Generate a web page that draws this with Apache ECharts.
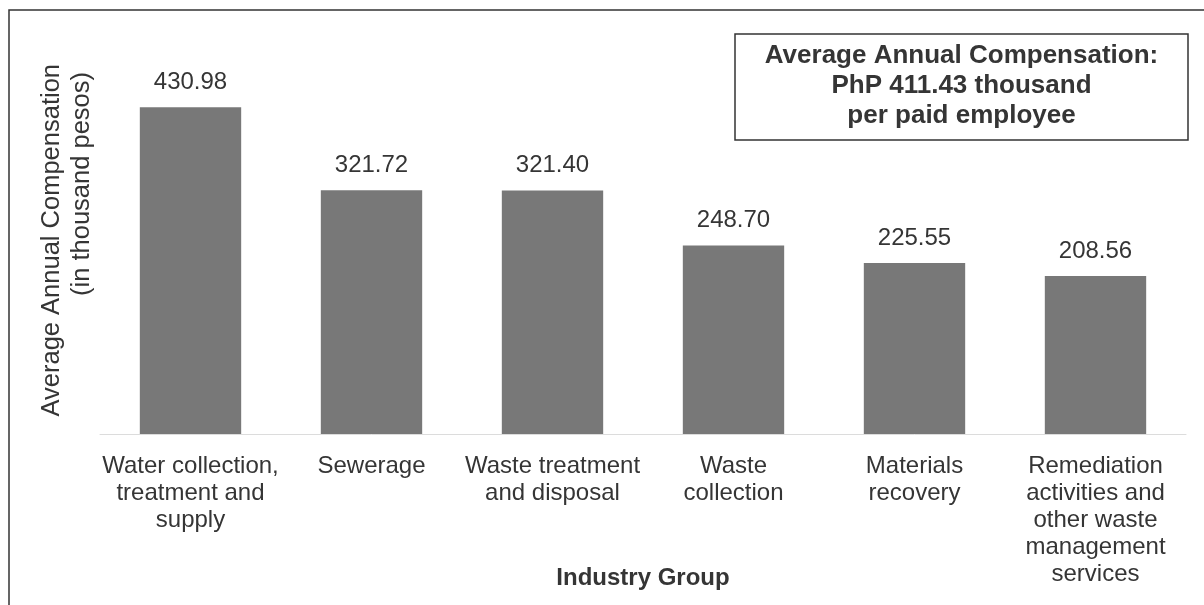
<!DOCTYPE html>
<html>
<head>
<meta charset="utf-8">
<script src="https://cdn.jsdelivr.net/npm/echarts@6/dist/echarts.min.js"></script>
<style>
html,body{margin:0;padding:0;background:#fff;}
#chart{width:1204px;height:605px;}
</style>
</head>
<body>
<div id="chart"></div>
<script>
var categories = [
  "Water collection,\ntreatment and\nsupply",
  "Sewerage",
  "Waste treatment\nand disposal",
  "Waste\ncollection",
  "Materials\nrecovery",
  "Remediation\nactivities and\nother waste\nmanagement\nservices"
];
var values = [430.98, 321.72, 321.40, 248.70, 225.55, 208.56];
var xAxisTitle = "Industry Group";
var yAxisTitleLines = ["Average Annual Compensation", "(in thousand pesos)"];
var boxText = "Average Annual Compensation:\nPhP 411.43 thousand\nper paid employee";

var FONT = '"Liberation Sans", Arial, sans-serif';
var TXT = '#353535';

var chart = echarts.init(document.getElementById('chart'), null, {renderer: 'canvas'});
chart.setOption({
  backgroundColor: '#ffffff',
  animation: false,
  textStyle: {fontFamily: FONT},
  grid: {left: 100, right: 18, top: 55, bottom: 171, containLabel: false, outerBoundsMode: 'none'},
  xAxis: {
    type: 'category',
    data: categories,
    axisLine: {show: true, lineStyle: {color: '#dcdcdc', width: 1}},
    axisTick: {show: false},
    axisLabel: {
      interval: 0, margin: 19, fontSize: 24, lineHeight: 27,
      color: TXT, fontFamily: FONT, align: 'center'
    },
    name: xAxisTitle,
    nameLocation: 'middle',
    nameGap: 132,
    nameMoveOverlap: false,
    nameTextStyle: {fontSize: 24, fontWeight: 'bold', color: TXT, fontFamily: FONT}
  },
  yAxis: {
    type: 'value',
    min: 0, max: 500, interval: 100,
    axisLine: {show: false},
    axisTick: {show: false},
    axisLabel: {show: false},
    splitLine: {show: false}
  },
  series: [{
    type: 'bar',
    data: values,
    barCategoryGap: '44%',
    itemStyle: {color: '#787878'},
    label: {
      show: true, position: 'top', distance: 13,
      fontSize: 24, color: TXT, fontFamily: FONT,
      formatter: function (p) { return p.value.toFixed(2); }
    }
  }],
  graphic: [
    {
      type: 'rect', z: 0, silent: true,
      shape: {x: 9, y: 10, width: 1300, height: 700},
      style: {fill: 'none', stroke: '#333', lineWidth: 1.5}
    },
    {
      type: 'rect', z: 10, silent: true,
      shape: {x: 735, y: 34, width: 453, height: 106},
      style: {fill: '#fff', stroke: '#333', lineWidth: 1.5}
    },
    {
      type: 'text', z: 11, silent: true,
      x: 961.5, y: 86,
      style: {
        text: boxText, align: 'center', verticalAlign: 'middle',
        fontSize: 26, fontWeight: 'bold', lineHeight: 30,
        fill: TXT, fontFamily: FONT
      }
    },
    {
      type: 'text', z: 11, silent: true,
      x: 52, y: 64, rotation: Math.PI / 2,
      style: {
        text: yAxisTitleLines[0], align: 'right', verticalAlign: 'middle',
        fontSize: 25.5, fill: TXT, fontFamily: FONT
      }
    },
    {
      type: 'text', z: 11, silent: true,
      x: 82, y: 72, rotation: Math.PI / 2,
      style: {
        text: yAxisTitleLines[1], align: 'right', verticalAlign: 'middle',
        fontSize: 25.5, fill: TXT, fontFamily: FONT
      }
    }
  ]
});
</script>
</body>
</html>
